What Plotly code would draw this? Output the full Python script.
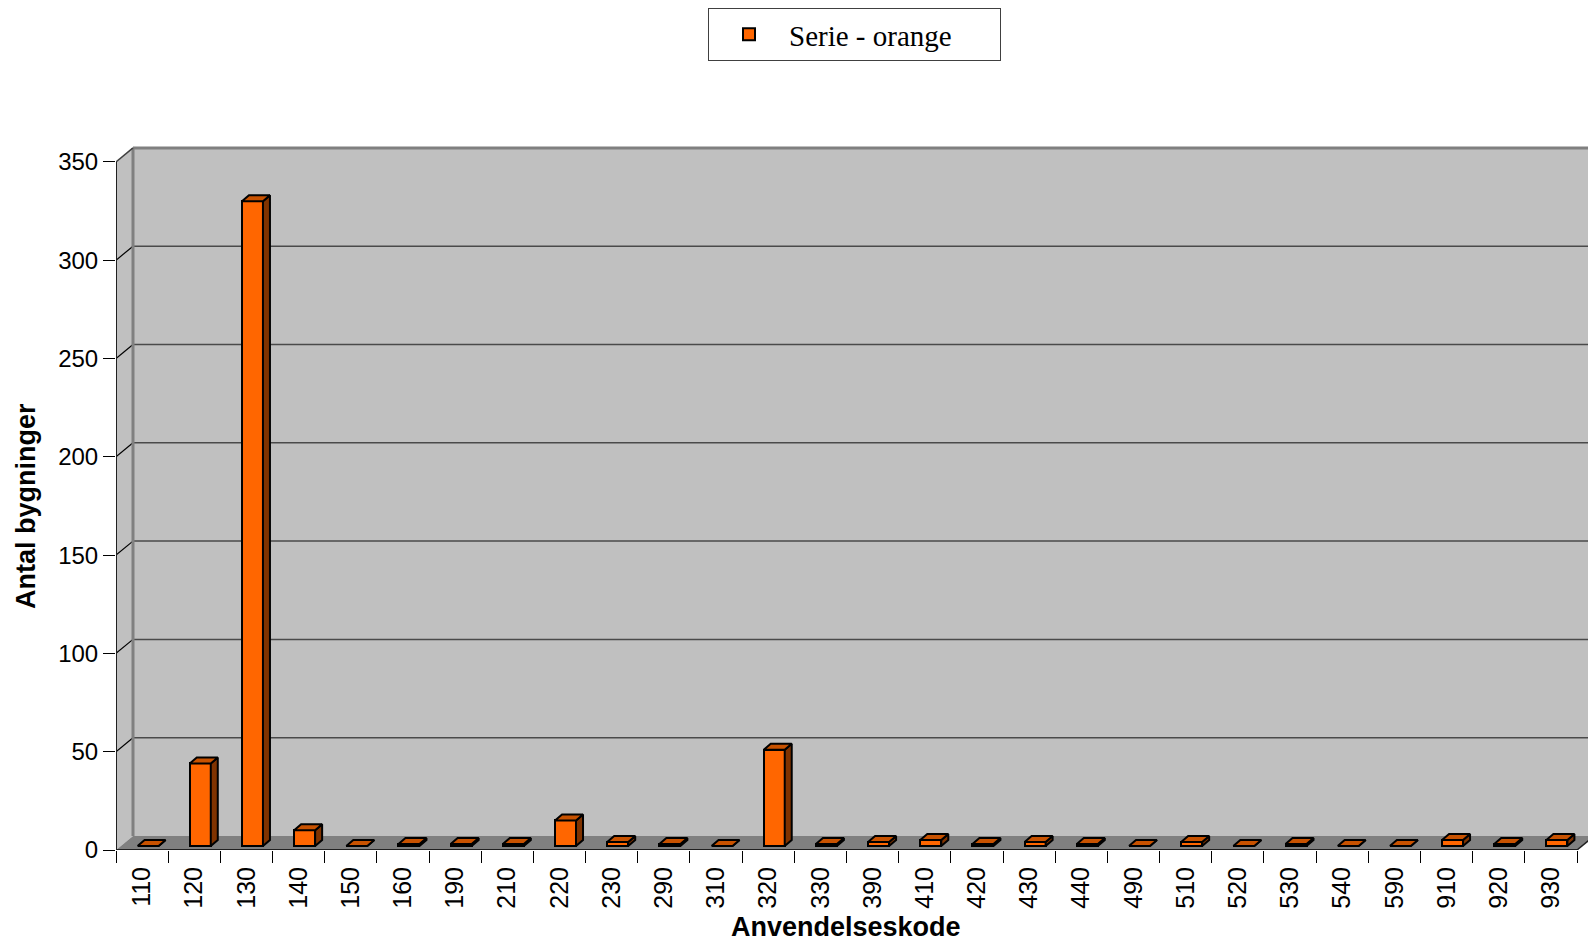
import plotly.graph_objects as go

# Building use codes and number of buildings per code
codes = ["110", "120", "130", "140", "150", "160", "190", "210", "220", "230",
         "290", "310", "320", "330", "390", "410", "420", "430", "440", "490",
         "510", "520", "530", "540", "590", "910", "920", "930"]
counts = [0, 42, 328, 8, 0, 1, 1, 1, 13, 2,
          1, 0, 49, 1, 2, 3, 1, 2, 1, 0,
          2, 0, 1, 0, 0, 3, 1, 3]
y_ticks = [0, 50, 100, 150, 200, 250, 300, 350]
series_name = "Serie - orange"

# Page geometry (pixels)
W, H = 1588, 943
LEFT, BASE, TOP = 116, 850, 146
PX_CAT = (1577 - LEFT) / len(codes)      # pixels per category
PX_VAL = 1.966                           # pixels per building
X_MAX = (W - LEFT) / PX_CAT
Y_MAX = (BASE - TOP) / PX_VAL

# 3-D depth of the chart box and of each bar, in axis units
DX, DY = 17 / PX_CAT, 14 / PX_VAL
BAR_SHIFT, BAR_LIFT = 6 / PX_CAT, 4 / PX_VAL
BAR_W = 21 / PX_CAT
BDX, BDY = 7 / PX_CAT, 6 / PX_VAL

ORANGE, SIDE, TOPC = "#FF6600", "#803300", "#C85200"
n = len(codes)
ncat = n

fig = go.Figure()

# Front faces of the bars
centers = [i + 0.5 + BAR_SHIFT for i in range(n)]
fig.add_trace(go.Bar(
    x=centers, y=counts, base=[BAR_LIFT] * n, width=BAR_W,
    marker=dict(color=ORANGE, line=dict(color="black", width=2)),
    name=series_name, showlegend=True, hoverinfo="skip",
))

# Side and top faces built from the same values
side_x, side_y, top_x, top_y = [], [], [], []
for c, v in zip(centers, counts):
    x0, x1 = c - BAR_W / 2, c + BAR_W / 2
    yb, yt = BAR_LIFT, BAR_LIFT + v
    side_x += [x1, x1 + BDX, x1 + BDX, x1, x1, None]
    side_y += [yb, yb + BDY, yt + BDY, yt, yb, None]
    top_x += [x0, x1, x1 + BDX, x0 + BDX, x0, None]
    top_y += [yt, yt, yt + BDY, yt + BDY, yt, None]

fig.add_trace(go.Scatter(x=side_x, y=side_y, mode="lines", fill="toself",
                         fillcolor=SIDE, line=dict(color="black", width=2),
                         showlegend=False, hoverinfo="skip"))
fig.add_trace(go.Scatter(x=top_x, y=top_y, mode="lines", fill="toself",
                         fillcolor=TOPC, line=dict(color="black", width=2),
                         showlegend=False, hoverinfo="skip"))

# Chart box: back wall, left wall and floor
ytop = y_ticks[-1]
shapes = []
shapes.append(dict(type="path", layer="below",
                   path=f"M{DX},{DY} L{X_MAX + 1},{DY} L{X_MAX + 1},{ytop + DY} L{DX},{ytop + DY} Z",
                   fillcolor="#C0C0C0", line=dict(width=0)))
shapes.append(dict(type="path", layer="below",
                   path=f"M0,0 L0,{ytop} L{DX},{ytop + DY} L{DX},{DY} Z",
                   fillcolor="#C0C0C0", line=dict(width=0)))
shapes.append(dict(type="path", layer="below",
                   path=f"M0,0 L{ncat},0 L{ncat + DX},{DY} L{DX},{DY} Z",
                   fillcolor="#808080", line=dict(width=0)))
# Grid lines on the back wall and their links on the left wall
for v in y_ticks[1:-1]:
    shapes.append(dict(type="line", layer="below", x0=DX, x1=X_MAX + 1,
                       y0=v + DY, y1=v + DY, line=dict(color="#4a4a4a", width=1.5)))
    shapes.append(dict(type="line", layer="below", x0=0, x1=DX,
                       y0=v, y1=v + DY, line=dict(color="black", width=1.2)))
# Box edges
shapes.append(dict(type="line", layer="below", x0=DX, x1=DX, y0=DY, y1=ytop + DY,
                   line=dict(color="#808080", width=3)))
shapes.append(dict(type="line", layer="below", x0=DX, x1=X_MAX + 1,
                   y0=ytop + DY, y1=ytop + DY, line=dict(color="#808080", width=3)))
shapes.append(dict(type="line", layer="below", x0=0, x1=DX, y0=ytop, y1=ytop + DY,
                   line=dict(color="#404040", width=1.5)))
shapes.append(dict(type="line", layer="below", x0=0, x1=0, y0=0, y1=ytop,
                   line=dict(color="#202020", width=2)))
shapes.append(dict(type="line", layer="above", x0=0, x1=ncat, y0=0, y1=0,
                   line=dict(color="#202020", width=2)))
shapes.append(dict(type="line", layer="above", x0=ncat, x1=ncat + DX, y0=0, y1=DY,
                   line=dict(color="#202020", width=1.5)))

fig.update_layout(
    width=W, height=H,
    margin=dict(l=LEFT, r=0, t=TOP, b=H - BASE, pad=0, autoexpand=False),
    paper_bgcolor="white", plot_bgcolor="white",
    shapes=shapes,
    bargap=0,
    font=dict(family="Liberation Sans, Arial, sans-serif", color="black"),
    xaxis=dict(
        range=[0, X_MAX], showgrid=False, zeroline=False, showline=False,
        tickmode="array", tickvals=[i + 0.5 for i in range(n)], ticktext=codes,
        tickangle=-90, ticks="outside", ticklen=6, tickcolor="rgba(0,0,0,0)",
        tickfont=dict(size=25, color="black"),
        minor=dict(tickmode="array", tickvals=list(range(n + 1)), ticks="outside",
                   ticklen=12, tickwidth=1, tickcolor="black", showgrid=False),
        fixedrange=True, automargin=False,
    ),
    yaxis=dict(
        range=[0, Y_MAX], showgrid=False, zeroline=False, showline=False,
        tickmode="array", tickvals=y_ticks, ticks="outside", ticklen=12,
        tickwidth=1, tickcolor="black", tickfont=dict(size=24, color="black"),
        fixedrange=True, automargin=False,
    ),
    legend=dict(
        xref="container", yref="container", x=708 / W, y=1 - 8 / H,
        xanchor="left", yanchor="top", orientation="h",
        bgcolor="white", bordercolor="#404040", borderwidth=1,
        font=dict(family="Liberation Serif, Times New Roman, serif", size=29, color="black"),
        entrywidth=206, itemwidth=70,
    ),
    annotations=[
        dict(text="<b>Anvendelseskode</b>", xref="paper", yref="paper",
             x=(846 - LEFT) / (W - LEFT), y=(BASE - 927) / (BASE - TOP),
             showarrow=False, xanchor="center", yanchor="middle",
             font=dict(size=27, color="black")),
        dict(text="<b>Antal bygninger</b>", xref="paper", yref="paper",
             x=(26 - LEFT) / (W - LEFT), y=(BASE - 506) / (BASE - TOP),
             showarrow=False, xanchor="center", yanchor="middle", textangle=-90,
             font=dict(size=27, color="black")),
    ],
)

fig.write_html("out.html")
